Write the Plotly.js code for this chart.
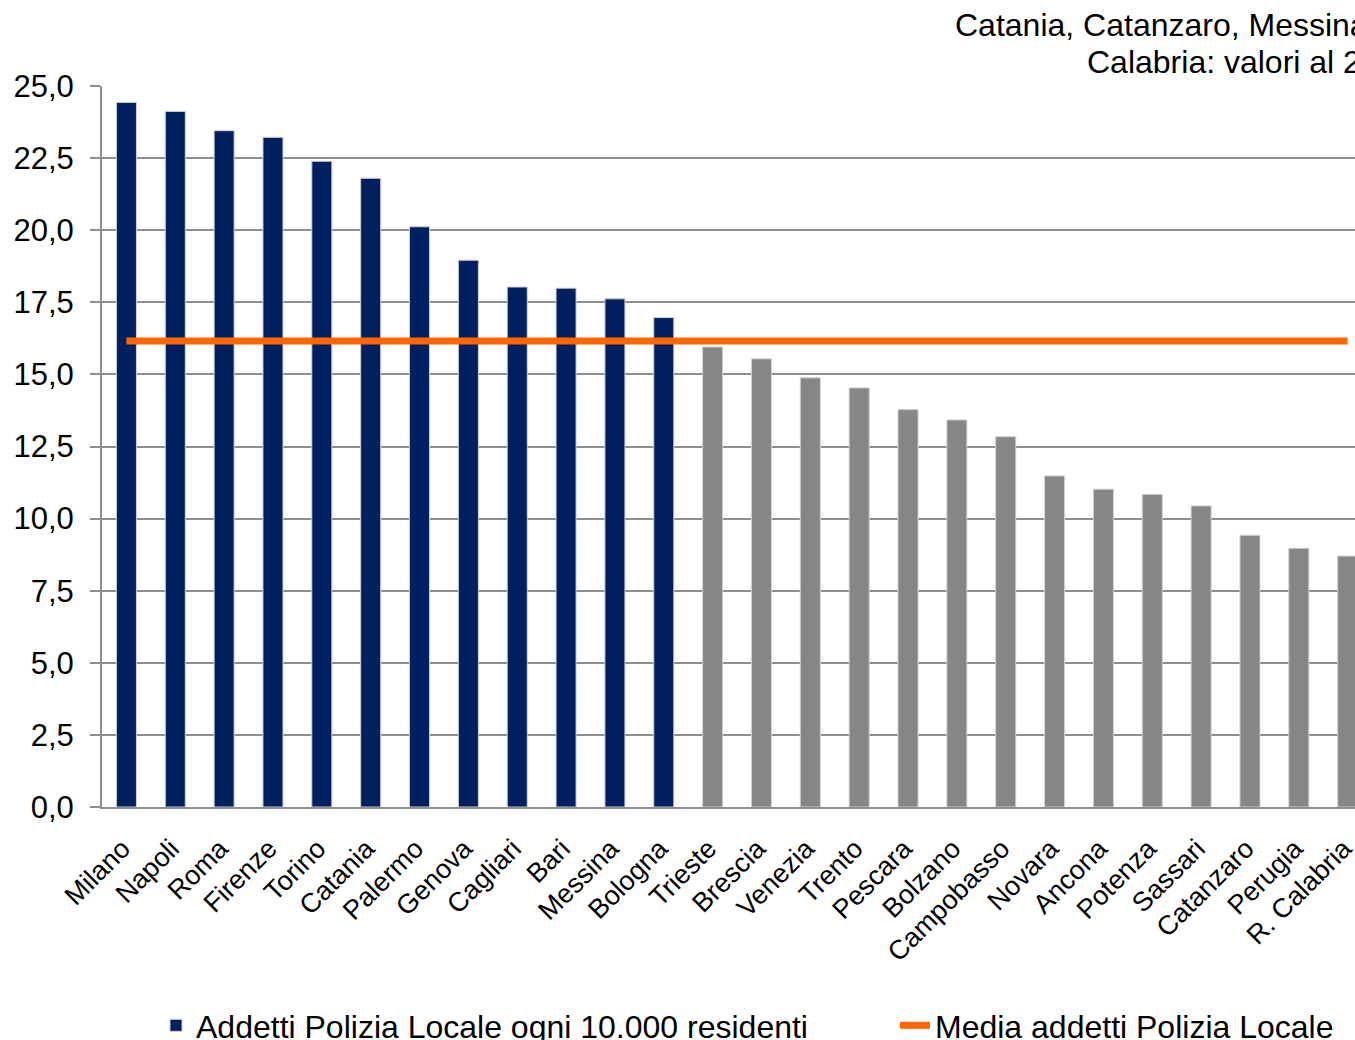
<!DOCTYPE html>
<html>
<head>
<meta charset="utf-8">
<script src="https://cdn.plot.ly/plotly-3.0.1.min.js"></script>
<style>
  html, body { margin: 0; padding: 0; background: #ffffff; }
  #chart { width: 1355px; height: 1040px; }
</style>
</head>
<body>
<div id="chart"></div>
<script>
// ---- Data ----
const cities = ["Milano", "Napoli", "Roma", "Firenze", "Torino", "Catania", "Palermo", "Genova",
  "Cagliari", "Bari", "Messina", "Bologna", "Trieste", "Brescia", "Venezia", "Trento", "Pescara",
  "Bolzano", "Campobasso", "Novara", "Ancona", "Potenza", "Sassari", "Catanzaro", "Perugia", "R. Calabria"];
const addetti = [24.43, 24.12, 23.45, 23.22, 22.39, 21.80, 20.12, 18.96, 18.03, 17.99, 17.62, 16.97,
  15.95, 15.54, 14.88, 14.53, 13.78, 13.42, 12.84, 11.48, 11.02, 10.84, 10.44, 9.42, 8.97, 8.70];
const mediaValue = 16.16;
const yTicks = [0, 2.5, 5, 7.5, 10, 12.5, 15, 17.5, 20, 22.5, 25];
const seriesNames = ["Addetti Polizia Locale ogni 10.000 residenti", "Media addetti Polizia Locale"];
const noteLines = ["Catania, Catanzaro, Messina", "Calabria: valori al 2"];

// ---- Styles ----
const BLUE = "#002060", GREY = "#868686", ORANGE = "#ff6600", GRID = "#8e8e8e";
const FONT = "Liberation Sans, Arial, Helvetica, sans-serif";

const barColors = addetti.map(v => v > mediaValue ? BLUE : GREY);
const mediaSeries = cities.map(() => mediaValue);

const traces = [
  {
    type: "bar",
    x: cities,
    y: addetti,
    name: seriesNames[0],
    legend: "legend",
    marker: { color: barColors, line: { color: "#cfcfcf", width: 1 } },
    cliponaxis: true
  },
  {
    type: "scatter",
    mode: "lines",
    x: cities,
    y: mediaSeries,
    name: seriesNames[1],
    legend: "legend2",
    line: { color: ORANGE, width: 7 },
    cliponaxis: true
  }
];

const W = 1355, H = 1040, ML = 102, MT = 86, MB = 233, MR = 0;
const plotW = W - ML - MR, plotH = H - MT - MB;
const px2x = p => (p - ML) / plotW;
const py2y = p => (H - MB - p) / plotH;

const legendBase = {
  orientation: "h",
  xanchor: "left",
  yanchor: "top",
  y: py2y(998),
  font: { family: FONT, size: 32, color: "#000000" },
  itemwidth: 30,
  bgcolor: "rgba(0,0,0,0)"
};

const layout = {
  width: W,
  height: H,
  margin: { l: ML, r: MR, t: MT, b: MB, autoexpand: false },
  paper_bgcolor: "#ffffff",
  plot_bgcolor: "#ffffff",
  separators: ",.",
  font: { family: FONT, color: "#000000", size: 27 },
  bargap: 0.59,
  showlegend: true,
  legend: Object.assign({}, legendBase, { x: px2x(156) }),
  legend2: Object.assign({}, legendBase, { x: px2x(895) }),
  xaxis: {
    type: "category",
    range: [-0.5, -0.5 + plotW / 48.85],
    showline: true,
    linecolor: GRID,
    linewidth: 2,
    showgrid: false,
    ticks: "",
    tickangle: -45,
    tickfont: { family: FONT, size: 27, color: "#000000" },
    ticklabelstandoff: 13,
    ticklabelshift: -4,
    fixedrange: true
  },
  yaxis: {
    range: [0, 25],
    tickvals: yTicks,
    tickformat: ".1f",
    showline: true,
    linecolor: GRID,
    linewidth: 2,
    showgrid: true,
    gridcolor: GRID,
    gridwidth: 2,
    zeroline: false,
    ticks: "outside",
    ticklen: 10,
    tickwidth: 2,
    tickcolor: GRID,
    tickfont: { family: FONT, size: 31, color: "#000000" },
    ticklabelstandoff: 10,
    fixedrange: true
  },
  shapes: [
    {
      type: "rect", xref: "paper", yref: "paper", layer: "above",
      x0: px2x(905), x1: 1.1, y0: py2y(92), y1: 1.2,
      fillcolor: "#ffffff", line: { width: 0 }
    }
  ],
  annotations: [
    {
      xref: "paper", yref: "paper", x: px2x(953), y: py2y(25),
      xanchor: "left", yanchor: "middle", showarrow: false,
      text: noteLines[0], font: { family: FONT, size: 32, color: "#000000" }
    },
    {
      xref: "paper", yref: "paper", x: px2x(1085), y: py2y(62),
      xanchor: "left", yanchor: "middle", showarrow: false,
      text: noteLines[1], font: { family: FONT, size: 32, color: "#000000" }
    }
  ],
  hovermode: false
};

Plotly.newPlot("chart", traces, layout, { displayModeBar: false, staticPlot: true });
</script>
</body>
</html>
